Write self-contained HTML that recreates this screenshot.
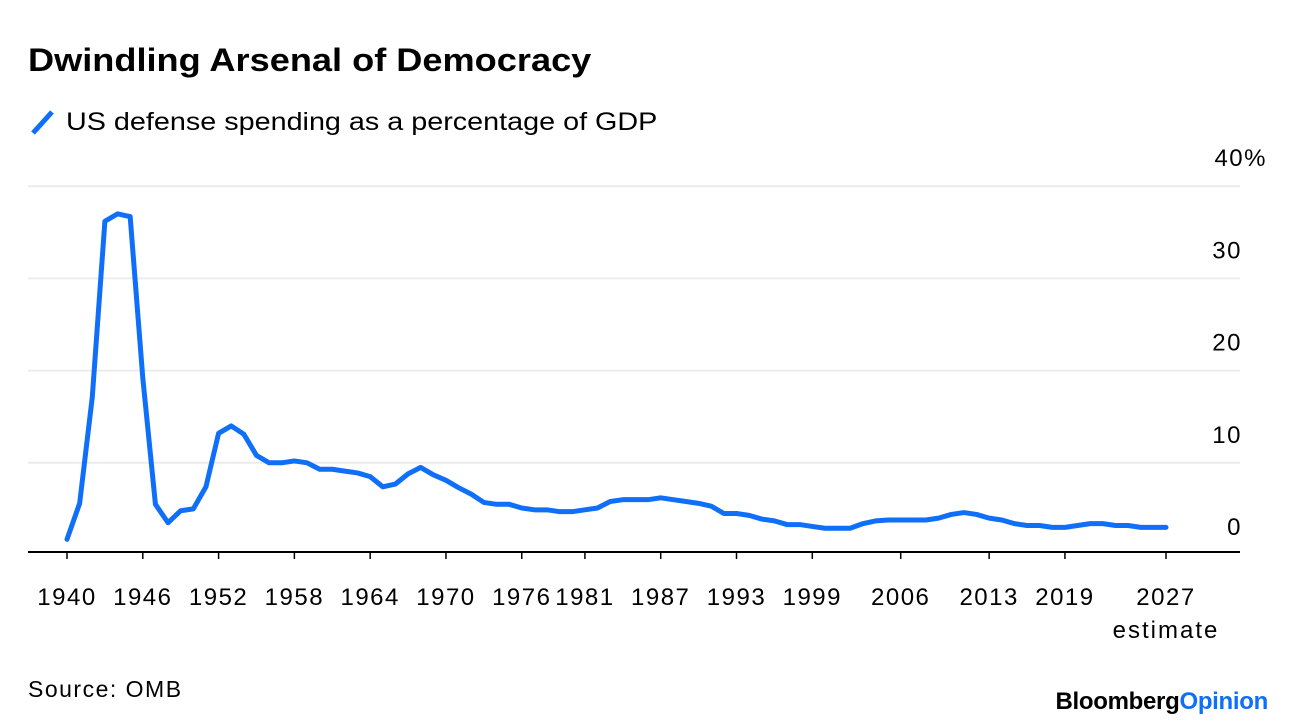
<!DOCTYPE html>
<html><head><meta charset="utf-8"><style>
body{margin:0;width:1296px;height:728px;background:#fff;font-family:"Liberation Sans",sans-serif;overflow:hidden;position:relative}
.t{position:absolute;white-space:nowrap;color:#000}
</style></head><body>
<div class="t" style="left:28px;top:42px;font-size:32px;font-weight:bold;transform:scaleX(1.13);transform-origin:0 0">Dwindling Arsenal of Democracy</div>
<div style="position:absolute;left:28px;top:108px;height:30px">
<svg width="30" height="30" style="position:absolute;left:0;top:0"><line x1="5" y1="25" x2="24" y2="4" stroke="#0f6ff9" stroke-width="5"/></svg>
<span class="t" style="left:38px;top:0px;font-size:25px;transform:scaleX(1.15);transform-origin:0 0">US defense spending as a percentage of GDP</span></div>
<svg id="chart" width="1296" height="728" style="position:absolute;left:0;top:0"></svg>
<div class="t" style="left:28px;top:676px;font-size:23px;letter-spacing:1.5px">Source: OMB</div>
<div class="t" style="right:28px;top:688px;font-size:24px;font-weight:bold;letter-spacing:-0.3px">Bloomberg<span style="color:#0f6ff9">Opinion</span></div>
<script>
const years=[];for(let y=1940;y<=2027;y++)years.push(y);
const values=[1.7,5.6,17.1,36.2,37.0,36.7,19.2,5.5,3.5,4.8,5.0,7.4,13.2,14.0,13.1,10.8,10.0,10.0,10.2,10.0,9.3,9.3,9.1,8.9,8.5,7.4,7.7,8.8,9.5,8.7,8.1,7.3,6.6,5.7,5.5,5.5,5.1,4.9,4.9,4.7,4.7,4.9,5.1,5.8,6.0,6.0,6.0,6.2,6.0,5.8,5.6,5.3,4.5,4.5,4.3,3.9,3.7,3.3,3.3,3.1,2.9,2.9,2.9,3.4,3.7,3.8,3.8,3.8,3.8,4.0,4.4,4.6,4.4,4.0,3.8,3.4,3.2,3.2,3.0,3.0,3.2,3.4,3.4,3.2,3.2,3.0,3.0,3.0,3.0,2.8].slice(0,88);
const yTicks=[0,10,20,30,40];
const yTickLabels=["0","10","20","30","40%"];
const xTickYears=[1940,1946,1952,1958,1964,1970,1976,1981,1987,1993,1999,2006,2013,2019,2027];
const svg=document.getElementById('chart');const NS='http://www.w3.org/2000/svg';
const X=y=>67+(y-1940)*(1166-67)/87;
const Y=v=>555-v*9.22;
function mk(t,a){const e=document.createElementNS(NS,t);for(const k in a)e.setAttribute(k,a[k]);svg.appendChild(e);return e;}
yTicks.forEach((v,i)=>{
 if(v>0){const g=mk('line',{x1:28,x2:1240,y1:Y(v),y2:Y(v),stroke:'#ececec','stroke-width':2});
 
 }
 const t=mk('text',{x:yTickLabels[i].includes('%')?1267:1242,y:Y(v)-20,'text-anchor':'end','font-size':24,'letter-spacing':1.5,'font-family':'Liberation Sans'});
 t.textContent=yTickLabels[i];
 
 
});
const base=mk('line',{x1:28,x2:1240,y1:552,y2:552,stroke:'#000','stroke-width':2});


xTickYears.forEach(yr=>{
 const tk=mk('line',{x1:X(yr),x2:X(yr),y1:552,y2:559,stroke:'#000','stroke-width':1.5});
 
 
 const t=mk('text',{x:X(yr),y:605,'text-anchor':'middle','font-size':24,'letter-spacing':1.5,'font-family':'Liberation Sans'});
 t.textContent=yr;
 
 
});
const est=mk('text',{x:X(2027),y:638,'text-anchor':'middle','font-size':24,'letter-spacing':2,'font-family':'Liberation Sans'});
est.textContent='estimate';


const p=mk('polyline',{points:years.map((y,i)=>X(y)+','+Y(values[i])).join(' '),fill:'none',stroke:'#0f6ff9','stroke-width':5,'stroke-linejoin':'round','stroke-linecap':'round'});


</script>
</body></html>
